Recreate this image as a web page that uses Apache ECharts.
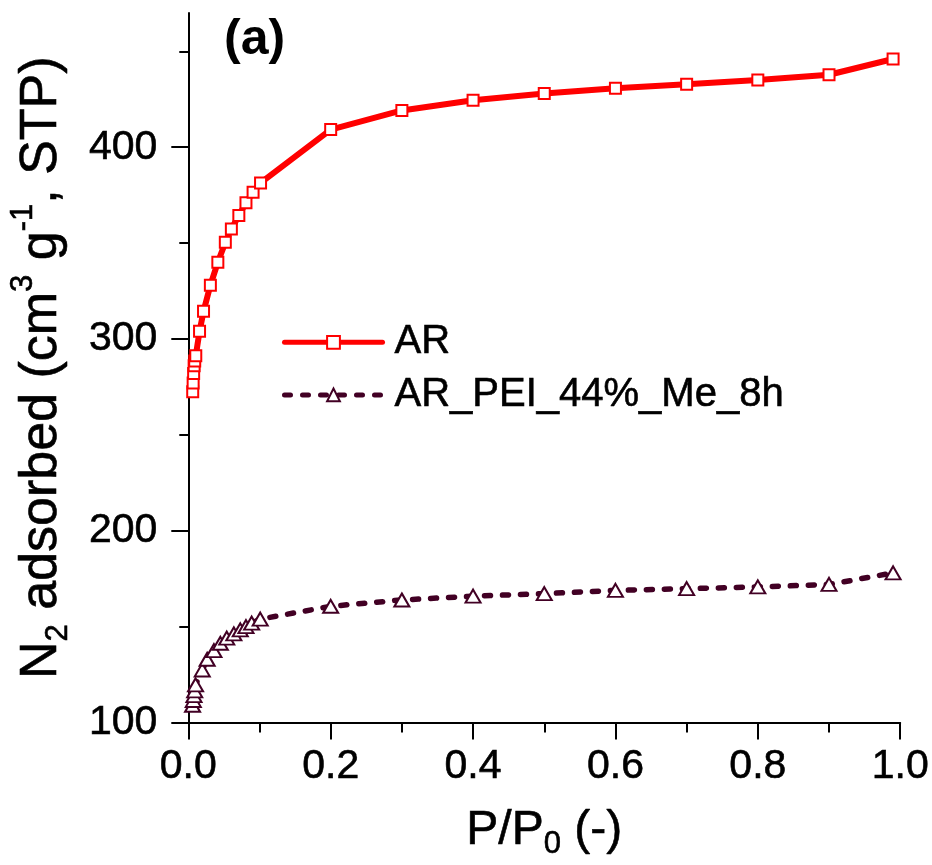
<!DOCTYPE html>
<html>
<head>
<meta charset="utf-8">
<title>N2 adsorption isotherms</title>
<script src="https://cdn.jsdelivr.net/npm/echarts@6/dist/echarts.min.js"></script>
<style>
  html, body { margin: 0; padding: 0; background: #fff; }
  #chart { width: 932px; height: 865px; }
</style>
</head>
<body>
<div id="chart"></div>
<script>
// Relative pressure P/P0 and adsorbed volume (cm3 g-1, STP)
const arPressure = [0.0062, 0.0068, 0.0075, 0.0082, 0.009, 0.0105, 0.0158, 0.0214, 0.031, 0.0415, 0.052, 0.0605, 0.071, 0.081, 0.091, 0.1015, 0.2, 0.3, 0.4, 0.5, 0.6, 0.7, 0.8, 0.9, 0.99];
const arVolume   = [272.5, 277, 282, 286, 288.5, 291.3, 304, 314.4, 328, 340, 350.4, 357.4, 364.4, 371, 376.5, 381.4, 409.2, 419.2, 424.5, 428, 430.7, 432.9, 435, 437.8, 446];

const peiPressure = [0.006, 0.007, 0.008, 0.009, 0.0102, 0.0196, 0.0265, 0.036, 0.045, 0.054, 0.064, 0.073, 0.081, 0.089, 0.101, 0.2, 0.3, 0.4, 0.5, 0.6, 0.7, 0.8, 0.9, 0.99];
const peiVolume   = [109, 111.5, 114, 116.5, 119.6, 127.4, 133, 137.5, 141.3, 144, 146.2, 148.3, 150, 151.8, 153.9, 160.6, 163.9, 165.9, 167.2, 168.9, 169.8, 170.7, 172, 178];

const seriesNames = ['AR', 'AR_PEI_44%_Me_8h'];
const yMajorTicks = [100, 200, 300, 400];
const yMinorTicks = [150, 250, 350, 450];

const FONT = 'Liberation Sans';
const RED = '#ff0000';
const MAROON = '#420024';

// slight outline so the glyphs carry the same weight as the printed figure
const ink = { color: '#000', textBorderColor: '#000', textBorderWidth: 0.6 };

const pairs = (xs, ys) => xs.map((x, i) => [x, ys[i]]);

const baseY = {
  type: 'value',
  position: 'left',
  min: 100,
  max: 470,
  splitLine: { show: false },
  axisLine: { show: true, lineStyle: { color: '#000', width: 2 } }
};

const option = {
  animation: false,
  backgroundColor: '#fff',
  title: {
    text: '(a)',
    left: 224,
    top: 15,
    padding: 0,
    textStyle: { fontFamily: FONT, fontWeight: 'bold', fontSize: 50, color: '#000' }
  },
  legend: {
    orient: 'vertical',
    left: 282,
    top: 322,
    padding: 0,
    itemWidth: 98,
    itemHeight: 16,
    itemGap: 12,
    data: seriesNames,
    lineStyle: { width: 5 },
    itemStyle: { borderWidth: 2 },
    textStyle: Object.assign({ fontFamily: FONT, fontSize: 40, lineHeight: 40, padding: [0, 0, 0, 7] }, ink)
  },
  grid: { left: 186, right: 30, top: 13, bottom: 142.5, containLabel: false },
  xAxis: {
    type: 'value',
    min: 0,
    max: 1,
    interval: 0.2,
    splitLine: { show: false },
    axisLine: { show: true, lineStyle: { color: '#000', width: 2 } },
    axisTick: { show: true, inside: false, length: 17, lineStyle: { color: '#000', width: 2 } },
    minorTick: { show: true, splitNumber: 2, length: 10, lineStyle: { color: '#000', width: 2 } },
    axisLabel: Object.assign({
      margin: 24,
      fontFamily: FONT,
      fontSize: 41,
      formatter: v => v.toFixed(1)
    }, ink),
    name: '{n|P/P}{s|0}{n| (-)}',
    nameLocation: 'middle',
    nameGap: 79,
    nameTextStyle: {
      fontFamily: FONT,
      color: '#000',
      rich: {
        n: Object.assign({ fontFamily: FONT, fontSize: 48, lineHeight: 58, verticalAlign: 'middle' }, ink),
        s: Object.assign({ fontFamily: FONT, fontSize: 31, lineHeight: 16, verticalAlign: 'bottom' }, ink)
      }
    }
  },
  yAxis: [
    Object.assign({}, baseY, {
      axisTick: { show: true, inside: false, length: 17, customValues: yMajorTicks, lineStyle: { color: '#000', width: 2 } },
      axisLabel: Object.assign({
        show: true,
        customValues: yMajorTicks,
        margin: 31,
        fontFamily: FONT,
        fontSize: 41
      }, ink),
      name: '{n|N}{s|2}{n| adsorbed (cm}{p|3}{n| g}{p|-1}{n|, STP)}',
      nameLocation: 'middle',
      nameRotate: 90,
      nameGap: 114,
      nameTextStyle: {
        fontFamily: FONT,
        color: '#000',
        rich: {
          n: Object.assign({ fontFamily: FONT, fontSize: 52, lineHeight: 66, verticalAlign: 'middle' }, ink),
          s: Object.assign({ fontFamily: FONT, fontSize: 31, lineHeight: 6, verticalAlign: 'bottom' }, ink),
          p: Object.assign({ fontFamily: FONT, fontSize: 31, lineHeight: 32, verticalAlign: 'top' }, ink)
        }
      }
    }),
    Object.assign({}, baseY, {
      axisLine: { show: false },
      axisTick: { show: true, inside: false, length: 9, customValues: yMinorTicks, lineStyle: { color: '#000', width: 2 } },
      axisLabel: { show: false }
    })
  ],
  series: [
    {
      name: seriesNames[0],
      type: 'line',
      yAxisIndex: 0,
      data: pairs(arPressure, arVolume),
      symbol: 'rect',
      symbolSize: 11,
      showAllSymbol: true,
      lineStyle: { color: RED, width: 6, cap: 'round', join: 'round' },
      itemStyle: { color: '#fff', borderColor: RED, borderWidth: 2 },
      z: 3
    },
    {
      name: seriesNames[1],
      type: 'line',
      yAxisIndex: 0,
      data: pairs(peiPressure, peiVolume),
      symbol: 'triangle',
      symbolSize: [15, 13],
      showAllSymbol: true,
      lineStyle: { color: MAROON, width: 5.5, type: [6, 12], cap: 'round', join: 'round' },
      itemStyle: { color: '#fff', borderColor: MAROON, borderWidth: 2 },
      z: 2
    }
  ]
};

const chart = echarts.init(document.getElementById('chart'), null, { renderer: 'canvas' });
chart.setOption(option);
</script>
</body>
</html>
